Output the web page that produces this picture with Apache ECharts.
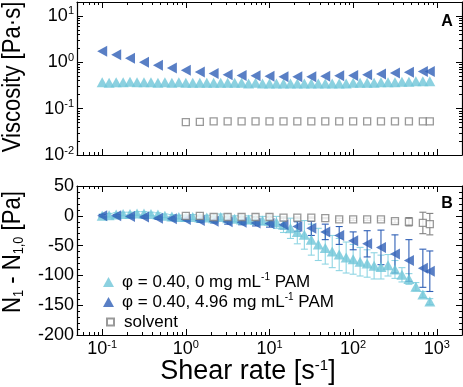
<!DOCTYPE html>
<html>
<head>
<meta charset="utf-8">
<script src="https://cdn.jsdelivr.net/npm/echarts@6/dist/echarts.min.js"></script>
<style>
  html, body { margin: 0; padding: 0; background: #fff; }
  #chart { width: 463px; height: 387px; }
</style>
</head>
<body>
<div id="chart"></div>
<script>
// shear rates [1/s]
const rateFine = [0.1, 0.121, 0.147, 0.178, 0.215, 0.261, 0.316, 0.383, 0.464, 0.562, 0.681, 0.825,
  1, 1.21, 1.47, 1.78, 2.15, 2.61, 3.16, 3.83, 4.64, 5.62, 6.81, 8.25,
  10, 12.1, 14.7, 17.8, 21.5, 26.1, 31.6, 38.3, 46.4, 56.2, 68.1, 82.5,
  100, 121, 147, 178, 215, 261, 316, 383, 464, 562, 681, 825];
const rateCoarse = [0.1, 0.147, 0.215, 0.316, 0.464, 0.681, 1, 1.47, 2.15, 3.16, 4.64, 6.81,
  10, 14.7, 21.5, 31.6, 46.4, 68.1, 100, 147, 215, 316, 464, 681, 825];
const rateSolvent = [1, 1.47, 2.15, 3.16, 4.64, 6.81, 10, 14.7, 21.5, 31.6, 46.4, 68.1,
  100, 147, 215, 316, 464, 681, 825];

// viscosity [Pa s]
const viscNoPam = [0.37, 0.36, 0.37, 0.37, 0.38, 0.37, 0.37, 0.37, 0.36, 0.37, 0.36, 0.37,
  0.36, 0.36, 0.36, 0.36, 0.36, 0.36, 0.36, 0.36, 0.36, 0.35, 0.36, 0.35,
  0.35, 0.35, 0.35, 0.35, 0.35, 0.35, 0.35, 0.35, 0.35, 0.35, 0.35, 0.35,
  0.36, 0.36, 0.36, 0.36, 0.37, 0.37, 0.37, 0.38, 0.38, 0.39, 0.39, 0.39];
const viscPam = [1.73, 1.46, 1.22, 1.0, 0.86, 0.75, 0.67, 0.62, 0.57, 0.54, 0.52, 0.51,
  0.50, 0.49, 0.49, 0.49, 0.50, 0.51, 0.52, 0.54, 0.56, 0.59, 0.61, 0.63, 0.63];
const viscSolvent = [0.051, 0.052, 0.053, 0.053, 0.053, 0.053, 0.053, 0.053, 0.053, 0.053,
  0.053, 0.053, 0.053, 0.053, 0.053, 0.053, 0.053, 0.053, 0.053];

// N1 - N1,0 [Pa] and error bars
const n1NoPam = [0, 1, 2, 3, 3, 4, 4, 3, 2, 0, -1, -2,
  -2, -2, -3, -3, -4, -2, -4, -5, -6, -6, -7, -8,
  -8, -11, -15, -21, -27, -32, -40, -48, -54, -60, -65, -70,
  -73, -77, -80, -84, -86, -83, -90, -99, -106, -119, -132, -144];
const n1NoPamErr = [3, 3, 3, 3, 3, 3, 3, 3, 3, 3, 3, 3,
  3, 4, 4, 4, 4, 5, 5, 5, 6, 6, 6, 7,
  8, 10, 13, 17, 20, 24, 26, 27, 27, 27, 27, 26,
  25, 24, 23, 22, 20, 18, 15, 12, 9, 7, 5, 5];
const n1Pam = [0, 0, -1, -2, -4, -5, -6, -8, -9, -10, -11, -12,
  -13, -15, -18, -21, -27, -33, -42, -47, -53, -64, -75, -88, -93];
const n1PamErr = [2, 2, 2, 2, 2, 3, 3, 3, 3, 4, 4, 5,
  6, 7, 8, 12, 13, 15, 15, 22, 29, 32, 35, 32, 34];
const n1Solvent = [0, 0, -2, -2, -2, -2, -2, -3, -3, -3, -4, -6,
  -6, -6, -6, -9, -10, -12, -14];
const n1SolventErr = [1, 1, 1, 1, 1, 1, 1, 1, 1, 1, 1, 2, 2, 2, 2, 3, 7, 18, 18];

const xDecades = [0.1, 1, 10, 100, 1000];
const viscDecades = [0.01, 0.1, 1, 10];

const nameNoPam = 'φ = 0.40, 0 mg mL-1 PAM';
const namePam = 'φ = 0.40, 4.96 mg mL-1 PAM';
const nameSolvent = 'solvent';

const FONT = '"Liberation Sans", Arial, Helvetica, sans-serif';
const CYAN = '#6fc6d8';
const BLUE = '#2f5fb6';
const GRAY = '#808080';
const lg = Math.log10;

const X_MIN = lg(0.05), X_MAX = lg(2000);
const V_MIN = lg(0.01), V_MAX = lg(20);

function minorLog(decades, lo, hi) {
  const out = [];
  [decades[0] / 10].concat(decades).forEach(function (d) {
    for (let k = 2; k <= 9; k++) {
      const v = lg(k * d);
      if (v > lo + 0.005 && v < hi - 0.005) out.push(v);
    }
  });
  return out;
}

const powLabel = {
  fontFamily: FONT, fontSize: 18, color: '#000',
  formatter: function (v) { return '{b|10}{s|' + Math.round(v) + '}'; },
  rich: {
    b: {fontFamily: FONT, fontSize: 18, color: '#000', lineHeight: 20},
    s: {fontFamily: FONT, fontSize: 11, color: '#000', verticalAlign: 'top', lineHeight: 11}
  }
};
const frameLine = {onZero: false, lineStyle: {color: '#000', width: 1.2}};

function tickAxis(opt) {
  return Object.assign({
    type: 'value',
    splitLine: {show: false},
    axisLine: {show: false, onZero: false},
    axisLabel: {show: false}
  }, opt);
}

function xAxesFor(grid, withLabels) {
  const major = xDecades.map(lg);
  const minor = minorLog(xDecades, X_MIN, X_MAX);
  const list = [];
  ['bottom', 'top'].forEach(function (pos) {
    list.push(tickAxis({
      gridIndex: grid, position: pos, min: X_MIN, max: X_MAX,
      axisLine: frameLine,
      axisTick: {inside: true, length: 6, customValues: major, lineStyle: {color: '#000', width: 1}},
      axisLabel: (withLabels && pos === 'bottom')
        ? Object.assign({customValues: major, margin: 4}, powLabel)
        : {show: false}
    }));
    list.push(tickAxis({
      gridIndex: grid, position: pos, min: X_MIN, max: X_MAX,
      axisTick: {inside: true, length: 3, customValues: minor, lineStyle: {color: '#000', width: 1}}
    }));
  });
  return list;
}

const viscMajor = viscDecades.map(lg);
const viscMinor = minorLog(viscDecades, V_MIN, V_MAX);
const yAxes = [];
['left', 'right'].forEach(function (pos) {
  yAxes.push(tickAxis({
    gridIndex: 0, position: pos, min: V_MIN, max: V_MAX,
    axisLine: frameLine,
    axisTick: {inside: true, length: 6, customValues: viscMajor, lineStyle: {color: '#000', width: 1}},
    axisLabel: pos === 'left' ? Object.assign({customValues: viscMajor, margin: 3}, powLabel) : {show: false}
  }));
  yAxes.push(tickAxis({
    gridIndex: 0, position: pos, min: V_MIN, max: V_MAX,
    axisTick: {inside: true, length: 3, customValues: viscMinor, lineStyle: {color: '#000', width: 1}}
  }));
});
['left', 'right'].forEach(function (pos) {
  yAxes.push(tickAxis({
    gridIndex: 1, position: pos, min: -200, max: 50, interval: 50,
    axisLine: frameLine,
    axisTick: {inside: true, length: 6, lineStyle: {color: '#000', width: 1}},
    minorTick: {show: true, splitNumber: 5, length: 3, lineStyle: {color: '#000', width: 1}},
    axisLabel: pos === 'left'
      ? {show: true, margin: 3, fontFamily: FONT, fontSize: 18, color: '#000'}
      : {show: false}
  }));
});

function errorBars(rates, vals, errs, color) {
  return {
    type: 'custom', xAxisIndex: 4, yAxisIndex: 4, silent: true, z: 1,
    data: rates.map(function (r, i) { return [lg(r), vals[i] - errs[i], vals[i] + errs[i]]; }),
    encode: {x: 0, y: [1, 2]},
    renderItem: function (params, api) {
      const lo = api.coord([api.value(0), api.value(1)]);
      const hi = api.coord([api.value(0), api.value(2)]);
      const w = 3.5;
      const st = {stroke: color, lineWidth: 1.1};
      return {type: 'group', children: [
        {type: 'line', shape: {x1: lo[0], y1: lo[1], x2: hi[0], y2: hi[1]}, style: st},
        {type: 'line', shape: {x1: lo[0] - w, y1: lo[1], x2: lo[0] + w, y2: lo[1]}, style: st},
        {type: 'line', shape: {x1: hi[0] - w, y1: hi[1], x2: hi[0] + w, y2: hi[1]}, style: st}
      ]};
    }
  };
}

function pts(rates, vals, logY) {
  return rates.map(function (r, i) { return [lg(r), logY ? lg(vals[i]) : vals[i]]; });
}

const styleNoPam = {symbol: 'triangle', symbolSize: [11, 10], itemStyle: {color: CYAN}};
const stylePam = {symbol: 'triangle', symbolSize: [11, 10], symbolRotate: 90, itemStyle: {color: BLUE}};
const styleSolvent = {symbol: 'rect', symbolSize: 7, itemStyle: {color: '#fff', borderColor: GRAY, borderWidth: 1.3}};

function scatter(name, style, x, y, data, z) {
  return Object.assign({type: 'scatter', name: name, xAxisIndex: x, yAxisIndex: y, data: data, z: z}, style);
}

const legendBase = {
  orient: 'vertical', itemGap: 0,
  formatter: function (n) { return n.replace('mL-1', 'mL{sup|-1}'); },
  textStyle: {
    fontFamily: FONT, fontSize: 17, color: '#000', lineHeight: 20, padding: [0, 0, 0, 3],
    rich: {sup: {fontFamily: FONT, fontSize: 10, color: '#000', verticalAlign: 'top', lineHeight: 10}}
  }
};

const myChart = echarts.init(document.getElementById('chart'));
myChart.setOption({
  animation: false,
  backgroundColor: '#fff',
  grid: [
    {left: 77, top: 2, width: 385, height: 153},
    {left: 77, top: 186, width: 385, height: 149}
  ],
  xAxis: xAxesFor(0, false).concat(xAxesFor(1, true)),
  yAxis: yAxes,
  legend: [
    Object.assign({}, legendBase, {data: [nameNoPam], left: 98, top: 267, itemWidth: 11, itemHeight: 10}),
    Object.assign({}, legendBase, {data: [namePam], left: 98, top: 287, itemWidth: 11, itemHeight: 10}),
    Object.assign({}, legendBase, {data: [nameSolvent], left: 101, top: 307, itemWidth: 7, itemHeight: 7,
      textStyle: Object.assign({}, legendBase.textStyle, {padding: [0, 0, 0, 5]})})
  ],
  graphic: [
    {type: 'text', x: 13, y: 77, rotation: Math.PI / 2, scaleX: 0.85,
      style: {text: 'Viscosity [Pa·s]', font: '26px ' + FONT, fill: '#000', align: 'center', verticalAlign: 'middle'}},
    {type: 'text', x: 13, y: 252, rotation: Math.PI / 2, scaleX: 0.85,
      style: {text: 'N{sub|1} - N{sub|1,0} [Pa]', font: '26px ' + FONT, fill: '#000', align: 'center', verticalAlign: 'middle',
        rich: {sub: {fontFamily: FONT, fontSize: 15, fill: '#000', verticalAlign: 'bottom', lineHeight: 15}}}},
    {type: 'text', x: 248, y: 372,
      style: {text: 'Shear rate [s{sup|-1}]', font: '27px ' + FONT, fill: '#000', align: 'center', verticalAlign: 'middle',
        rich: {sup: {fontFamily: FONT, fontSize: 15, fill: '#000', verticalAlign: 'top', lineHeight: 15}}}},
    {type: 'text', x: 447, y: 22,
      style: {text: 'A', font: 'bold 16px ' + FONT, fill: '#000', align: 'center', verticalAlign: 'middle'}},
    {type: 'text', x: 447, y: 204,
      style: {text: 'B', font: 'bold 16px ' + FONT, fill: '#000', align: 'center', verticalAlign: 'middle'}}
  ],
  series: [
    scatter(nameNoPam, styleNoPam, 0, 0, pts(rateFine, viscNoPam, true), 2),
    scatter(namePam, stylePam, 0, 0, pts(rateCoarse, viscPam, true), 3),
    scatter(nameSolvent, styleSolvent, 0, 0, pts(rateSolvent, viscSolvent, true), 4),
    errorBars(rateFine, n1NoPam, n1NoPamErr, '#8fd5e3'),
    scatter(nameNoPam, styleNoPam, 4, 4, pts(rateFine, n1NoPam, false), 2),
    errorBars(rateCoarse, n1Pam, n1PamErr, BLUE),
    scatter(namePam, stylePam, 4, 4, pts(rateCoarse, n1Pam, false), 3),
    errorBars(rateSolvent, n1Solvent, n1SolventErr, GRAY),
    scatter(nameSolvent, styleSolvent, 4, 4, pts(rateSolvent, n1Solvent, false), 4)
  ]
});
</script>
</body>
</html>
